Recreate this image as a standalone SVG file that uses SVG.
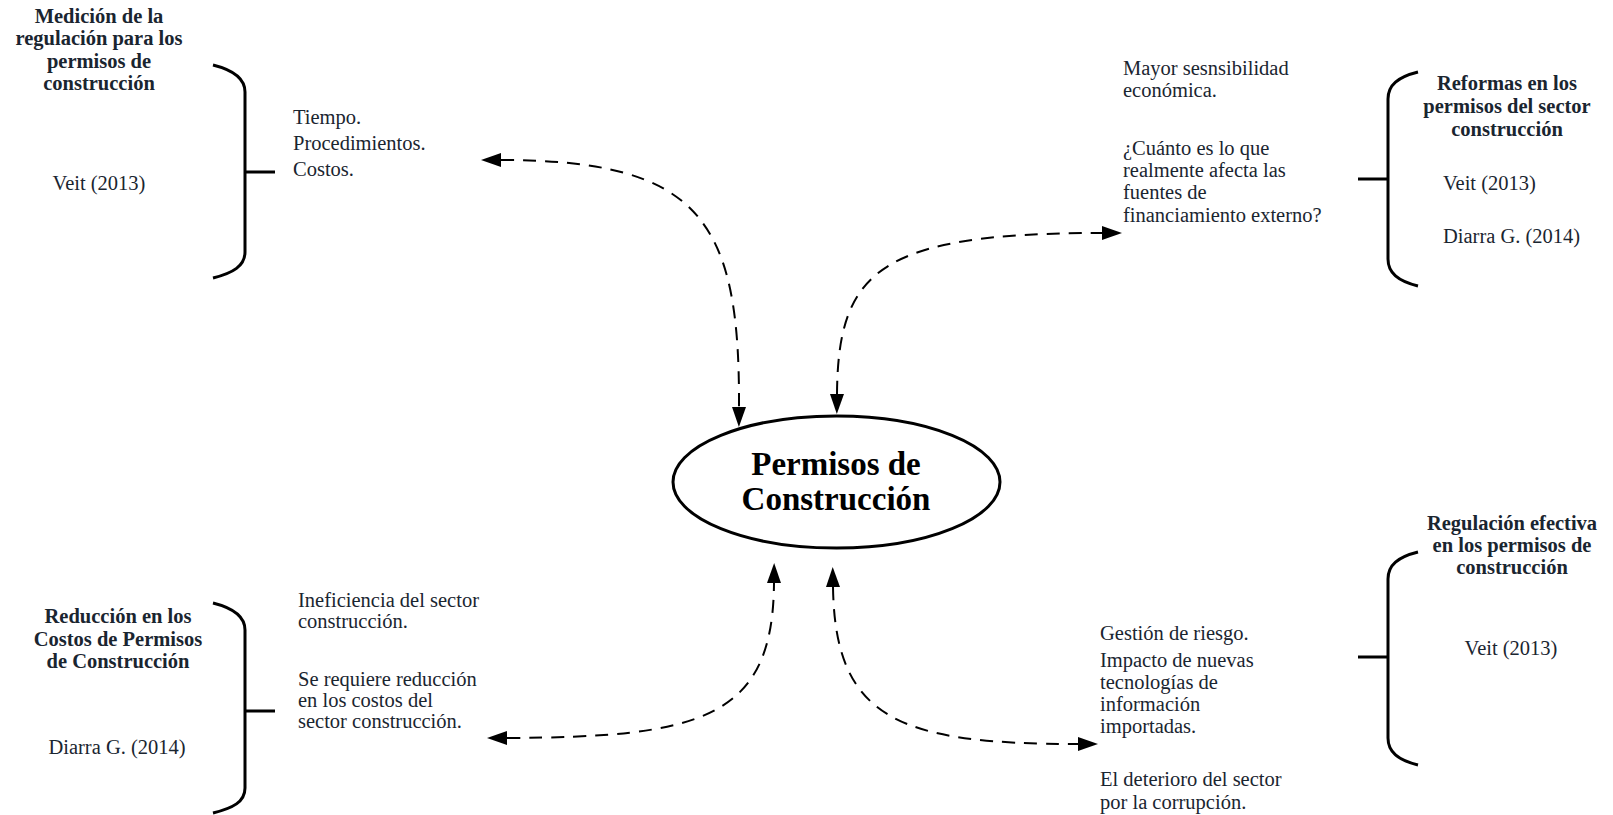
<svg xmlns="http://www.w3.org/2000/svg" width="1613" height="815" viewBox="0 0 1613 815">
<style>
  .t { font-family: "Liberation Serif", "Times New Roman", serif; font-size: 20.5px; fill: #1a2530; }
  .b { font-family: "Liberation Serif", "Times New Roman", serif; font-size: 20.5px; font-weight: bold; fill: #1a2530; text-anchor: middle; }
  .c { font-family: "Liberation Serif", "Times New Roman", serif; font-size: 33px; font-weight: bold; fill: #000; text-anchor: middle; }
  .brace { fill: none; stroke: #000; stroke-width: 3; }
  .conn { fill: none; stroke: #000; stroke-width: 2; stroke-dasharray: 13 9; }
</style>
<defs>
  <marker id="arr" markerUnits="userSpaceOnUse" markerWidth="22" markerHeight="14" refX="0" refY="7" orient="auto-start-reverse" overflow="visible">
    <path d="M0,0 L20,7 L0,14 z" fill="#000"/>
  </marker>
</defs>
<rect width="1613" height="815" fill="#fff"/>

<g id="center">
  <ellipse cx="836.5" cy="482" rx="163.5" ry="66" fill="#fff" stroke="#000" stroke-width="3"/>
  <text class="c" x="836" y="475">Permisos de</text>
  <text class="c" x="836" y="510">Construcción</text>
</g>

<g id="connectors">
  <path class="conn" d="M501,160 C700,160 740,220 739,407" marker-start="url(#arr)" marker-end="url(#arr)"/>
  <path class="conn" d="M837,394 C838,270 880,233 1102,233" marker-start="url(#arr)" marker-end="url(#arr)"/>
  <path class="conn" d="M507,738 C700,737 773,720 774,583" marker-start="url(#arr)" marker-end="url(#arr)"/>
  <path class="conn" d="M833,587 C835,720 900,744 1078,744" marker-start="url(#arr)" marker-end="url(#arr)"/>
</g>

<g id="node-top-left">
  <text class="b" x="99" y="23">Medición de la</text>
  <text class="b" x="99" y="45">regulación para los</text>
  <text class="b" x="99" y="68">permisos de</text>
  <text class="b" x="99" y="90">construcción</text>
  <text class="t" x="99" y="190" text-anchor="middle">Veit (2013)</text>
  <path class="brace" d="M213,65 C233,70 245,78 245,92 L245,252 C245,266 233,273 213,278 M245,172 L275,172"/>
  <text class="t" x="293" y="124">Tiempo.</text>
  <text class="t" x="293" y="150">Procedimientos.</text>
  <text class="t" x="293" y="176">Costos.</text>
</g>

<g id="node-top-right">
  <text class="t" x="1123" y="75">Mayor sesnsibilidad</text>
  <text class="t" x="1123" y="97">económica.</text>
  <text class="t" x="1123" y="155">¿Cuánto es lo que</text>
  <text class="t" x="1123" y="177">realmente afecta las</text>
  <text class="t" x="1123" y="199">fuentes de</text>
  <text class="t" x="1123" y="222">financiamiento externo?</text>
  <path class="brace" d="M1418,72 C1398,77 1388,85 1388,99 L1388,259 C1388,273 1398,281 1418,286 M1388,179 L1358,179"/>
  <text class="b" x="1507" y="90">Reformas en los</text>
  <text class="b" x="1507" y="113">permisos del sector</text>
  <text class="b" x="1507" y="136">construcción</text>
  <text class="t" x="1443" y="190">Veit (2013)</text>
  <text class="t" x="1443" y="243">Diarra G. (2014)</text>
</g>

<g id="node-bottom-left">
  <text class="b" x="118" y="623">Reducción en los</text>
  <text class="b" x="118" y="646">Costos de Permisos</text>
  <text class="b" x="118" y="668">de Construcción</text>
  <text class="t" x="117" y="754" text-anchor="middle">Diarra G. (2014)</text>
  <path class="brace" d="M213,603 C233,608 245,616 245,630 L245,788 C245,802 233,808 213,813 M245,711 L275,711"/>
  <text class="t" x="298" y="607">Ineficiencia del sector</text>
  <text class="t" x="298" y="628">construcción.</text>
  <text class="t" x="298" y="686">Se requiere reducción</text>
  <text class="t" x="298" y="707">en los costos del</text>
  <text class="t" x="298" y="728">sector construcción.</text>
</g>

<g id="node-bottom-right">
  <text class="t" x="1100" y="640">Gestión de riesgo.</text>
  <text class="t" x="1100" y="667">Impacto de nuevas</text>
  <text class="t" x="1100" y="689">tecnologías de</text>
  <text class="t" x="1100" y="711">información</text>
  <text class="t" x="1100" y="733">importadas.</text>
  <text class="t" x="1100" y="786">El deterioro del sector</text>
  <text class="t" x="1100" y="809">por la corrupción.</text>
  <path class="brace" d="M1418,552 C1398,557 1388,565 1388,579 L1388,738 C1388,752 1398,760 1418,765 M1388,657 L1358,657"/>
  <text class="b" x="1512" y="530">Regulación efectiva</text>
  <text class="b" x="1512" y="552">en los permisos de</text>
  <text class="b" x="1512" y="574">construcción</text>
  <text class="t" x="1511" y="655" text-anchor="middle">Veit (2013)</text>
</g>
</svg>
